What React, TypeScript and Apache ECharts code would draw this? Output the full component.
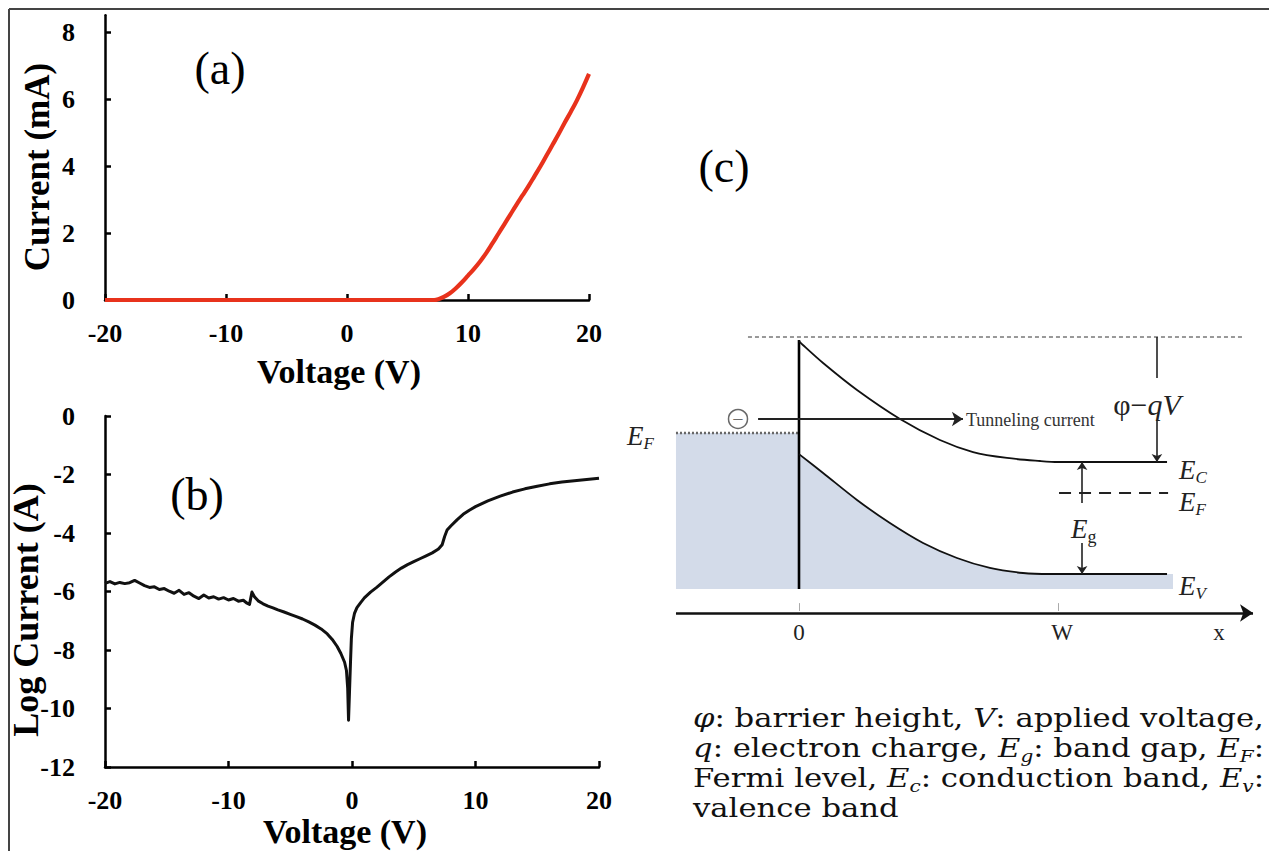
import React, { useEffect, useRef } from 'react';
import * as echarts from 'echarts';

const SERIF = "'Liberation Serif', 'Times New Roman', Times, serif";
const CAPTION_FONT = "'DejaVu Serif', 'Liberation Serif', serif";

// ---------- Panel (a): I-V, linear ----------
const A_VOLTAGE = [-20, -16, -10, 0, 5, 7.2, 7.6, 8.0, 8.5, 9.0, 9.5, 10.0, 10.5, 11.0, 11.5, 12.0, 12.5, 13.0, 13.5, 14.0, 14.5, 15.0, 15.5, 16.0, 16.5, 17.0, 17.5, 18.0, 18.5, 19.0, 19.5, 20.0];
const A_CURRENT = [0, 0, 0, 0, 0, 0, 0.03, 0.09, 0.2, 0.35, 0.53, 0.73, 0.93, 1.15, 1.4, 1.68, 1.97, 2.26, 2.55, 2.84, 3.12, 3.4, 3.7, 4.0, 4.32, 4.64, 4.96, 5.3, 5.62, 5.96, 6.34, 6.75];

// ---------- Panel (b): I-V, log ----------
const B_VOLTAGE = [-20.0, -19.6, -19.2, -18.8, -18.4, -18.0, -17.6, -17.2, -16.8, -16.4, -16.0, -15.6, -15.2, -14.8, -14.4, -14.0, -13.6, -13.2, -12.8, -12.4, -12.0, -11.6, -11.2, -10.8, -10.4, -10.0, -9.6, -9.2, -8.8, -8.5, -8.3, -8.1, -7.9, -7.6, -7.2, -6.8, -6.4, -6.0, -5.5, -5.0, -4.5, -4.0, -3.5, -3.0, -2.5, -2.0, -1.6, -1.2, -0.9, -0.6, -0.45, -0.35, -0.28, -0.2, -0.12, -0.05, 0.05, 0.2, 0.4, 0.7, 1.0, 1.5, 2.0, 2.5, 3.0, 3.5, 4.0, 4.5, 5.0, 5.5, 6.0, 6.5, 7.0, 7.3, 7.5, 7.7, 8.0, 8.5, 9.0, 9.5, 10.0, 11.0, 12.0, 13.0, 14.0, 15.0, 16.0, 17.0, 18.0, 19.0, 20.0];
const B_LOG_CURRENT = [-5.72, -5.66, -5.74, -5.69, -5.73, -5.7, -5.62, -5.71, -5.8, -5.86, -5.84, -5.93, -5.9, -5.99, -6.06, -5.96, -6.1, -6.04, -6.16, -6.24, -6.12, -6.22, -6.18, -6.26, -6.21, -6.29, -6.24, -6.33, -6.3, -6.4, -6.44, -6.02, -6.18, -6.32, -6.42, -6.5, -6.56, -6.63, -6.7, -6.78, -6.86, -6.94, -7.04, -7.15, -7.28, -7.45, -7.64, -7.88, -8.12, -8.42, -8.7, -9.3, -10.4, -9.4, -8.4, -7.6, -7.05, -6.75, -6.55, -6.38, -6.22, -6.02, -5.86, -5.68, -5.5, -5.34, -5.2, -5.08, -4.98, -4.88, -4.78, -4.68, -4.55, -4.4, -4.12, -3.9, -3.76, -3.55, -3.36, -3.22, -3.1, -2.9, -2.74, -2.6, -2.49, -2.4, -2.32, -2.26, -2.21, -2.17, -2.13];

const VOLTAGE_TICKS = [-20, -10, 0, 10, 20];
const A_CURRENT_TICKS = [0, 2, 4, 6, 8];
const B_CURRENT_TICKS = [-12, -10, -8, -6, -4, -2, 0];

// ---------- Panel (c): band diagram (depth in units of W, energy in units of Eg above E_V) ----------
const EC_DEPTH = [0, 0.015, 0.093, 0.224, 0.39, 0.544, 0.672, 0.803, 0.931, 1.0, 1.421];
const EC_ENERGY = [2.08, 2.045, 1.884, 1.643, 1.384, 1.196, 1.089, 1.036, 1.009, 1.0, 1.0];
const EV_DEPTH = [0, 0.093, 0.224, 0.351, 0.479, 0.61, 0.737, 0.865, 0.969, 1.421];
const EV_ENERGY = [1.07, 0.902, 0.661, 0.455, 0.277, 0.143, 0.054, 0.009, 0, 0];
const METAL_EDGE = -0.475;
const FILL_END = 1.444;
const FILL_BASE = -0.134;
const EF_METAL = 1.259;
const EF_SEMI_START = 1.004;
const EF_SEMI_END = 1.425;
const EF_SEMI = 0.723;
const VACUUM_START = -0.197;
const VACUUM_END = 1.722;
const VACUUM_LEVEL = 2.116;
const INTERFACE_TOP = 2.089;
const ELECTRON = [-0.2355, 1.384];
// [x1, y1, x2, y2, arrowhead at end (1) or not (0)]
const SEGMENTS: number[][] = [
  [1.382, 2.116, 1.382, 1.75, 0],
  [1.382, 1.375, 1.382, 1.0, 1],
  [1.093, 0.634, 1.093, 1.0, 1],
  [1.093, 0.277, 1.093, 0.0, 1],
  [-0.158, 1.384, 0.633, 1.384, 1],
];
const X_ARROW = [-0.475, -0.348, 1.753, -0.348];
const DEPTH_TICKS = [0, 1];
const DEPTH_TICK_RANGE = [-0.26, -0.33];

// caption pieces: [text, kind]  n = upright, i = italic, s = italic subscript
const CAPTION_LINES: string[][][] = [
  [['φ', 'i'], [': barrier height, ', 'n'], ['V', 'i'], [': applied voltage,', 'n']],
  [['q', 'i'], [': electron charge, ', 'n'], ['E', 'i'], ['g', 's'], [': band gap, ', 'n'], ['E', 'i'], ['F', 's'], [':', 'n']],
  [['Fermi level, ', 'n'], ['E', 'i'], ['c', 's'], [': conduction band, ', 'n'], ['E', 'i'], ['v', 's'], [':', 'n']],
  [['valence band', 'n']],
];

const tickFont = { fontFamily: SERIF, fontWeight: 'bold', fontSize: 26, color: '#000' };
const nameFont = { fontFamily: SERIF, fontWeight: 'bold', fontSize: 34, color: '#000' };

function voltageAxis(gridIndex: number, gap: number, pad: number[]) {
  return {
    gridIndex, type: 'value', min: -20, max: 20, interval: 10,
    name: 'Voltage (V)', nameLocation: 'middle', nameGap: gap, nameMoveOverlap: false,
    nameTextStyle: { ...nameFont, padding: pad },
    axisLine: { show: true, onZero: false, lineStyle: { color: '#000', width: 2.5 } },
    axisTick: { show: true, inside: true, length: 6, lineStyle: { color: '#000', width: 2.5 }, customValues: VOLTAGE_TICKS },
    axisLabel: { ...tickFont, margin: 20, customValues: VOLTAGE_TICKS },
    splitLine: { show: false },
  };
}

function currentAxis(gridIndex: number, min: number, max: number, ticks: number[]) {
  return {
    gridIndex, type: 'value', min, max, interval: 2,
    axisLine: { show: true, onZero: false, lineStyle: { color: '#000', width: 2.5 } },
    axisTick: { show: true, inside: true, length: 6, lineStyle: { color: '#000', width: 2.5 }, customValues: ticks },
    axisLabel: { ...tickFont, margin: 30, customValues: ticks },
    splitLine: { show: false },
  };
}

function diagramLine(data: number[][], lineStyle: any, z = 3, smooth: any = false) {
  return {
    type: 'line', xAxisIndex: 2, yAxisIndex: 2, data, showSymbol: false, symbol: 'none',
    lineStyle, silent: true, clip: false, z, smooth,
  };
}

function tok(size: number, italic: boolean, lineHeight: number, fill: string, padTop = 0) {
  const t: any = { fontFamily: SERIF, fontSize: size, fontStyle: italic ? 'italic' : 'normal', fill, lineHeight };
  if (padTop) t.padding = [padTop, 0, 0, 0];
  return t;
}

function eRich() {
  return { e: tok(27, true, 30, '#222'), s: tok(17, true, 30, '#222', 15), g: tok(18, false, 30, '#222', 15) };
}

function label(x: number, y: number, text: string, style: any, extra: any = {}) {
  return {
    type: 'text', x, y, silent: true, ...extra,
    style: { text, fill: '#111', fontFamily: SERIF, textAlign: 'center', textVerticalAlign: 'middle', align: 'center', verticalAlign: 'middle', ...style },
  };
}

const CAPTION_LEFT = 693;
const CAPTION_WIDTH = 571;
const CAPTION_TOP = 718;
const CAPTION_PITCH = 30;
const CAPTION_SIZE = 26;
const CAPTION_SUB_SIZE = 17;

function captionElements() {
  const ctx = document.createElement('canvas').getContext('2d') as CanvasRenderingContext2D;
  const measure = (t: string, size: number, italic: boolean) => {
    ctx.font = `${italic ? 'italic ' : ''}${size}px ${CAPTION_FONT}`;
    return ctx.measureText(t).width;
  };
  const sizeOf = (k: string) => (k === 's' ? CAPTION_SUB_SIZE : CAPTION_SIZE);
  const naturals = CAPTION_LINES.map((line) => line.reduce((w, p) => w + measure(p[0], sizeOf(p[1]), p[1] !== 'n'), 0));
  const scales = naturals.map((w) => CAPTION_WIDTH / w);
  scales[3] = (scales[0] + scales[1] + scales[2]) / 3;
  const out: any[] = [];
  CAPTION_LINES.forEach((line, li) => {
    let x = CAPTION_LEFT;
    const y = CAPTION_TOP + li * CAPTION_PITCH;
    const s = scales[li];
    line.forEach(([t, k]) => {
      const size = sizeOf(k);
      const italic = k !== 'n';
      const st: any = {
        text: t, fontFamily: CAPTION_FONT, fontSize: size, fill: '#111',
        textAlign: 'left', align: 'left', textVerticalAlign: 'middle', verticalAlign: 'middle',
      };
      if (italic) st.fontStyle = 'italic';
      out.push({ type: 'text', x, y: y + (k === 's' ? 8 : 0), scaleX: s, silent: true, style: st });
      x += measure(t, size, italic) * s;
    });
  });
  return out;
}

export default function App() {
  const ref = useRef<HTMLDivElement>(null);
  useEffect(() => {
    if (!ref.current) return;
    const chart = echarts.init(ref.current, undefined, { renderer: 'svg' });

    const rectFill = [[METAL_EDGE, EF_METAL], [0, EF_METAL]];
    const bandFill = [...EV_DEPTH.map((d, i) => [d, EV_ENERGY[i]]), [FILL_END, 0]];
    const markData: any[] = SEGMENTS.map((s) => [
      { coord: [s[0], s[1]], symbol: 'none', lineStyle: { color: '#222', width: s[1] === s[3] ? 2 : 1.6, type: 'solid' } },
      { coord: [s[2], s[3]], symbol: s[4] ? 'arrow' : 'none', symbolSize: s[1] === s[3] ? 11 : 8 },
    ]);
    markData.push([
      { coord: [X_ARROW[0], X_ARROW[1]], symbol: 'none', lineStyle: { color: '#111', width: 2.6, type: 'solid' } },
      { coord: [X_ARROW[2], X_ARROW[3]], symbol: 'arrow', symbolSize: 13 },
    ]);
    DEPTH_TICKS.forEach((d) => markData.push([
      { coord: [d, DEPTH_TICK_RANGE[0]], symbol: 'none', lineStyle: { color: '#aaa', width: 1, type: 'solid' } },
      { coord: [d, DEPTH_TICK_RANGE[1]], symbol: 'none' },
    ]));

    const yName = (x: number, y: number, text: string, size: number) => ({
      type: 'text', x, y, rotation: Math.PI / 2, silent: true,
      style: {
        text, fontFamily: SERIF, fontWeight: 'bold', fontSize: size, fill: '#000',
        textAlign: 'center', align: 'center', textVerticalAlign: 'middle', verticalAlign: 'middle',
      },
    });

    const option: any = {
      animation: false,
      backgroundColor: '#fff',
      grid: [
        { left: 105, top: 15.25, width: 484, height: 284.75, outerBoundsMode: 'none' },
        { left: 105, top: 416, width: 494, height: 351, outerBoundsMode: 'none' },
        { left: 669.5, top: 322, width: 595.7, height: 308, outerBoundsMode: 'none' },
      ],
      xAxis: [
        voltageAxis(0, 54, [0, 16, 0, 0]),
        voltageAxis(1, 47, [0, 14, 0, 0]),
        { gridIndex: 2, type: 'value', min: -0.5, max: 1.8, show: false },
      ],
      yAxis: [
        currentAxis(0, 0, 8.5, A_CURRENT_TICKS),
        currentAxis(1, -12, 0, B_CURRENT_TICKS),
        { gridIndex: 2, type: 'value', min: -0.5, max: 2.25, show: false },
      ],
      series: [
        {
          type: 'line', xAxisIndex: 0, yAxisIndex: 0, name: 'I-V (linear)',
          data: A_VOLTAGE.map((v, i) => [v, A_CURRENT[i]]),
          showSymbol: false, symbol: 'none', smooth: 0.4, clip: false, z: 4,
          lineStyle: { color: '#e8321c', width: 4.2 },
        },
        {
          type: 'line', xAxisIndex: 1, yAxisIndex: 1, name: 'I-V (log)',
          data: B_VOLTAGE.map((v, i) => [v, B_LOG_CURRENT[i]]),
          showSymbol: false, symbol: 'none', clip: false, z: 4,
          lineStyle: { color: '#111', width: 3, join: 'round' },
        },
        {
          ...diagramLine(rectFill, { width: 0, color: 'transparent' }, 1),
          areaStyle: { color: '#d3dbe9', opacity: 1, origin: FILL_BASE },
        },
        {
          ...diagramLine(bandFill, { width: 0, color: 'transparent' }, 1, 0.3),
          areaStyle: { color: '#d3dbe9', opacity: 1, origin: FILL_BASE },
        },
        diagramLine([[METAL_EDGE, EF_METAL], [0, EF_METAL]], { color: '#666', width: 2.5, type: [2, 2] }),
        diagramLine([[0, INTERFACE_TOP], [0, FILL_BASE]], { color: '#000', width: 2.6 }),
        diagramLine(EC_DEPTH.map((d, i) => [d, EC_ENERGY[i]]), { color: '#111', width: 1.8 }, 3, 0.3),
        diagramLine(EV_DEPTH.map((d, i) => [d, EV_ENERGY[i]]), { color: '#111', width: 1.8 }, 3, 0.3),
        diagramLine([[EF_SEMI_START, EF_SEMI], [EF_SEMI_END, EF_SEMI]], { color: '#222', width: 1.8, type: [12, 8] }),
        {
          ...diagramLine([[VACUUM_START, VACUUM_LEVEL], [VACUUM_END, VACUUM_LEVEL]], { color: '#333', width: 1, type: [4, 3] }),
          markLine: { silent: true, animation: false, label: { show: false }, emphasis: { disabled: true }, data: markData },
        },
        {
          type: 'scatter', xAxisIndex: 2, yAxisIndex: 2, data: [ELECTRON], symbol: 'circle', symbolSize: 19, silent: true, z: 5,
          itemStyle: { color: '#fff', borderColor: '#444', borderWidth: 1.5 },
          label: { show: true, position: 'inside', formatter: '−', fontFamily: SERIF, fontSize: 20, color: '#444' },
        },
      ],
      graphic: [
        { type: 'line', silent: true, shape: { x1: 9, y1: 9, x2: 1269, y2: 9 }, style: { stroke: '#444', lineWidth: 2 } },
        { type: 'line', silent: true, shape: { x1: 9, y1: 9, x2: 9, y2: 851 }, style: { stroke: '#444', lineWidth: 2 } },
        yName(37, 167, 'Current (mA)', 35),
        yName(26, 610, 'Log Current (A)', 36),
        label(220, 68, '(a)', { fontSize: 46, fill: '#000' }),
        label(197, 494, '(b)', { fontSize: 46, fill: '#000' }),
        label(724, 166, '(c)', { fontSize: 46, fill: '#000' }),
        label(966, 420, 'Tunneling current', { fontSize: 18, fill: '#333', textAlign: 'left', align: 'left' }),
        label(1147, 404, '{r|φ−}{i|qV}', {
          fontSize: 30,
          rich: { r: tok(30, false, 34, '#222'), i: tok(30, true, 34, '#222') },
        }),
        label(627, 436, '{e|E}{s|F}', { fontSize: 27, rich: eRich(), textAlign: 'left', align: 'left' }),
        label(1179, 470, '{e|E}{s|C}', { fontSize: 27, rich: eRich(), textAlign: 'left', align: 'left' }),
        label(1179, 502, '{e|E}{s|F}', { fontSize: 27, rich: eRich(), textAlign: 'left', align: 'left' }),
        label(1071, 529, '{e|E}{g|g}', { fontSize: 27, rich: eRich(), textAlign: 'left', align: 'left' }),
        label(1179, 586, '{e|E}{s|V}', { fontSize: 27, rich: eRich(), textAlign: 'left', align: 'left' }),
        label(799, 632, '0', { fontSize: 23, fill: '#222' }),
        label(1062, 632, 'W', { fontSize: 23, fill: '#222' }),
        label(1219, 632, 'x', { fontSize: 23, fill: '#222' }),
        ...captionElements(),
      ],
    };
    chart.setOption(option);
    return () => chart.dispose();
  }, []);
  return <div ref={ref} style={{ position: 'absolute', left: 0, top: 0, width: 1269, height: 851, background: '#fff' }} />;
}
